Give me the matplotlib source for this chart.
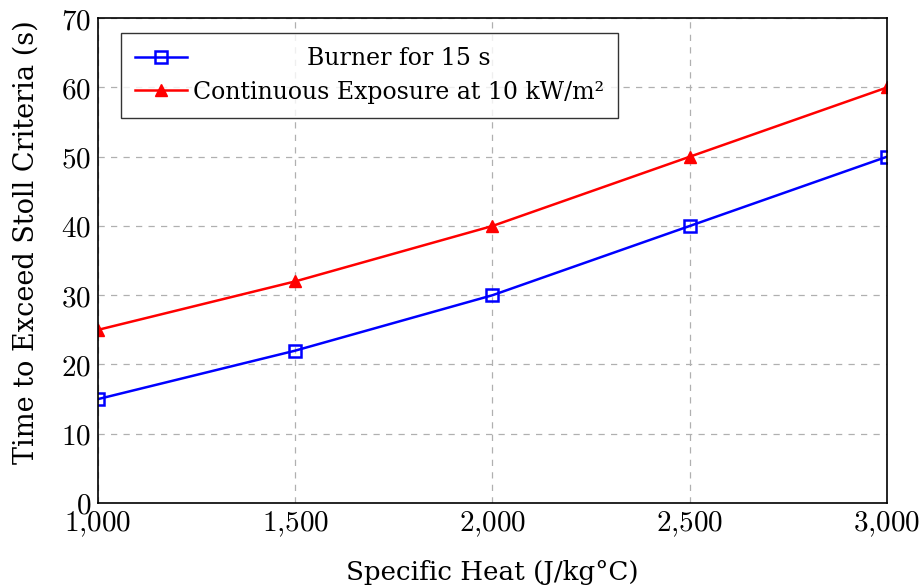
import matplotlib
matplotlib.use("Agg")
import matplotlib.pyplot as plt

# data
specific_heat = [1000, 1500, 2000, 2500, 3000]
burner_15s = [15, 22, 30, 40, 50]
continuous_10kw = [25, 32, 40, 50, 60]

x_ticks = [1000, 1500, 2000, 2500, 3000]
y_ticks = [0, 10, 20, 30, 40, 50, 60, 70]

plt.rcParams['font.family'] = ['DejaVu Serif']
plt.rcParams['mathtext.fontset'] = 'cm'

fig = plt.figure(figsize=(9.22, 5.88), dpi=100)
ax = fig.add_axes([0.1063, 0.1446, 0.962 - 0.1063, 0.969 - 0.1446])

ax.plot(specific_heat, burner_15s, color='blue', lw=1.8, marker='s', ms=8,
        mfc='none', mew=1.8, label='Burner for 15 s')
ax.plot(specific_heat, continuous_10kw, color='red', lw=1.8, marker='^', ms=8,
        mfc='red', mec='red', label='Continuous Exposure at 10 kW/m²')

ax.set_xlim(1000, 3000)
ax.set_ylim(0, 70)
ax.set_xticks(x_ticks)
ax.set_xticklabels(['$%d{,}%03d$' % (v // 1000, v % 1000) for v in x_ticks])
ax.set_yticks(y_ticks)
ax.set_yticklabels(['$%d$' % v for v in y_ticks])
ax.tick_params(length=0, labelsize=21, pad=5)

ax.grid(True, color='#b0b0b0', linestyle=(0, (5, 5)), linewidth=0.9)
for s in ax.spines.values():
    s.set_linewidth(1.2)

ax.set_xlabel('Specific Heat (J/kg°C)', fontsize=18.8, labelpad=15)
ax.set_ylabel('Time to Exceed Stoll Criteria (s)', fontsize=19.5)
ax.yaxis.set_label_coords(-0.074, 0.538)

leg = ax.legend(loc='upper left', bbox_to_anchor=(0.029, 0.97), fontsize=17,
                frameon=True, fancybox=False, edgecolor='black',
                handlelength=2.2, handletextpad=0.25, borderpad=0.6,
                labelspacing=0.45, borderaxespad=0)
leg.get_frame().set_linewidth(1.0)

# centre the legend entries like the reference
fig.canvas.draw()
r = fig.canvas.get_renderer()
widths = [t.get_window_extent(r).width for t in leg.get_texts()]
wmax = max(widths)
for t, w in zip(leg.get_texts(), widths):
    t.set_x((wmax - w) / 2)

plt.savefig('out.png', dpi=100)
